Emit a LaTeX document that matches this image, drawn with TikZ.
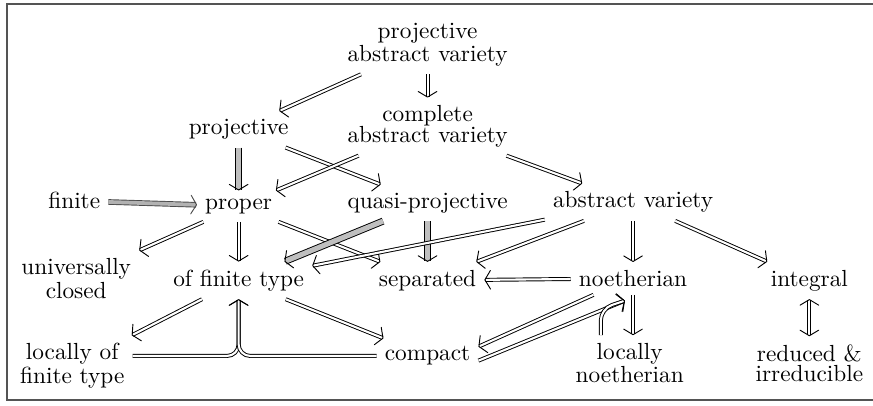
\documentclass[tikz,border=0pt]{standalone}
\usepackage{amsmath}
\usepackage{amssymb}
\usetikzlibrary{arrows.meta}

\tikzset{
  every node/.style={align=center, font=\linespread{0.74}\selectfont},
  tip/.tip={Straight Barb[length=2.4pt, width=8pt, line width=0.4pt, round]},
  imp/.style={double, double distance=0.9pt, -tip},
  gimp/.style={imp, double=gray!50, double distance=2.2pt},
  fimp/.style={imp, draw=black!70, double=gray!60, double distance=1.6pt},
}

\begin{document}
\begin{tikzpicture}
        \useasboundingbox (0,0) rectangle (13.17,6.11);
        % frame
        \draw[line width=0.85pt, black!67] (0.10,0.075) rectangle (13.5,6.055);

        % top rows
        \node (pav) at (6.45,5.44) {projective\\abstract variety};
        \node (proj) at (3.60,4.16) {projective};
        \node (cav) at (6.45,4.20) {complete\\abstract variety};

        % middle row
        \node (fin) at (1.12,3.08) {finite};
        \node (prop) at (3.60,3.00) {proper};
        \node (qp) at (6.45,3.05) {quasi-projective};
        \node (av) at (9.55,3.06) {abstract variety};

        % lower row
        \node (uc) at (1.15,1.91) {universally\\closed};
        \node (oft) at (3.60,1.88) {of finite type};
        \node (sep) at (6.45,1.88) {separated};
        \node (noe) at (9.55,1.91) {noetherian};
        \node (int) at (12.21,1.88) {integral};

        % bottom row
        \node (loft) at (1.09,0.59) {locally of\\finite type};
        \node (comp) at (6.45,0.74) {compact};
        \node (ln) at (9.50,0.63) {locally\\noetherian};
        \node (ri) at (12.21,0.63) {reduced \&\\irreducible};

        % implications
        \draw[imp] (pav) -- (proj);
        \draw[imp] (pav) -- (cav);
        \draw[gimp] (proj) -- (prop);
        \draw[imp] (proj) -- (qp);
        \draw[imp] (cav) -- (prop);
        \draw[imp] (cav) -- (av);
        \draw[fimp] (fin) -- (prop);
        \draw[imp] (prop) -- (uc);
        \draw[imp] (prop) -- (oft);
        \draw[imp] (prop) -- (sep);
        \draw[gimp] (qp) -- (oft);
        \draw[gimp] (qp) -- (sep);
        \draw[imp] (av) -- (oft);
        \draw[imp] (av) -- (sep);
        \draw[imp] (av) -- (noe);
        \draw[imp] (av) -- (int);
        \draw[imp] (noe) -- (sep);
        \draw[imp] (noe.south) -- (noe.south |- ln.north);
        \draw[imp, tip-tip] (int) -- (ri);
        \draw[imp] (oft) -- (loft);
        \draw[imp] (oft) -- (comp);

        % both together give of finite type
        \draw[imp, rounded corners=5pt] (loft.east |- comp.west) -- (oft.south |- comp.west) -- (oft.south);
        \draw[imp, rounded corners=5pt] (comp.west) -- (oft.south |- comp.west) -- (oft.south);

        % compact and locally noetherian
        \draw[imp] ([xshift=-17pt]noe.south) -- ([yshift=4pt]comp.east);
        \draw[imp] ([yshift=-2pt]comp.east) -- ([xshift=-3.5pt,yshift=-2.5pt]noe.south);
        \draw[imp, rounded corners=5pt] ([xshift=-12.4pt]ln.north) -- ++(0,0.4) -- ([xshift=-3.5pt,yshift=-2.5pt]noe.south);
    \end{tikzpicture}
\end{document}
